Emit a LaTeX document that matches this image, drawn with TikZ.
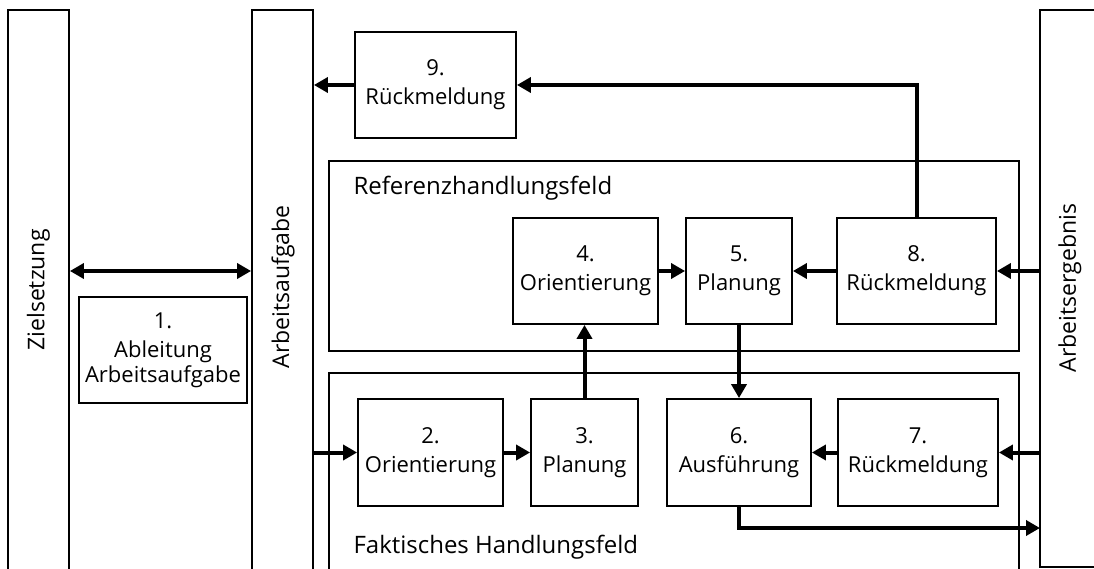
\documentclass[tikz,border=0pt]{standalone}
\usepackage{fontspec}
\setmainfont{Open Sans}
\usetikzlibrary{arrows.meta}
\begin{document}
\begin{tikzpicture}[x=1pt,y=-1pt,
  thinline/.style={line width=1.8pt},
  stepbox/.style={draw,thinline,rectangle,inner sep=0pt,align=center,
    font=\fontsize{22}{29}\selectfont},
  bar/.style={draw,thinline,rectangle,inner sep=0pt,minimum width=61pt},
  barlabel/.style={rotate=90,font=\fontsize{23}{28}\selectfont},
  fieldlabel/.style={anchor=base west,font=\fontsize{24}{28}\selectfont},
  arr/.style={line width=4pt,-{Triangle[length=14pt,width=15pt]}},
  biarr/.style={line width=4pt,{Triangle[length=14pt,width=15pt]}-{Triangle[length=14pt,width=15pt]}}]
\clip (0,0) rectangle (1094,569);

% vertical bars
\node[bar,minimum height=600pt] (ziel) at (38.5,310) {};
\node[bar,minimum height=600pt] (aa) at (282.5,310) {};
\node[bar,minimum width=80pt,minimum height=557pt] (ae) at (1080,288.5) {};
\node[barlabel] (zielt) at (38.5,290) {Zielsetzung};
\node[barlabel] (aat) at (283,287) {Arbeitsaufgabe};
\node[barlabel] (aet) at (1070,288) {Arbeitsergebnis};

% fields
\node[draw,thinline,rectangle,minimum width=690pt,minimum height=190pt] (ref) at (674,256) {};
\node[draw,thinline,rectangle,minimum width=690pt,minimum height=240pt] (fak) at (674,493) {};
\node[fieldlabel] (reft) at (350,195) {Referenzhandlungsfeld};
\node[fieldlabel] (fakt) at (350,553) {Faktisches Handlungsfeld};

% steps
\node[stepbox,minimum width=168pt,minimum height=106pt] (b1) at (163,350) {1.\\Ableitung\\[-4pt]Arbeitsaufgabe};
\node[stepbox,minimum width=161pt,minimum height=106pt] (b9) at (435.5,85) {9.\\Rückmeldung};
\node[stepbox,minimum width=145pt,minimum height=106pt] (b4) at (585.5,271) {4.\\Orientierung};
\node[stepbox,minimum width=106pt,minimum height=106pt] (b5) at (739,271) {5.\\Planung};
\node[stepbox,minimum width=159pt,minimum height=106pt] (b8) at (916.5,271) {8.\\Rückmeldung};
\node[stepbox,minimum width=145pt,minimum height=107pt] (b2) at (430.5,452.5) {2.\\Orientierung};
\node[stepbox,minimum width=107pt,minimum height=107pt] (b3) at (584.5,452.5) {3.\\Planung};
\node[stepbox,minimum width=144pt,minimum height=107pt] (b6) at (739,452.5) {6.\\Ausführung};
\node[stepbox,minimum width=160pt,minimum height=107pt] (b7) at (918,452.5) {7.\\Rückmeldung};
\coordinate (res) at (1040,528);

% connectors
\draw[biarr] (ziel.east |- b4.west) -- (aa.west |- b4.west);
\draw[arr] (b9.west) -- (aa.east |- b9.west);
\draw[arr] (b8.north) |- (b9.east);
\draw[arr] (b4.east) -- (b5.west);
\draw[arr] (b8.west) -- (b5.east);
\draw[arr] (ae.west |- b8.east) -- (b8.east);
\draw[arr] (aa.east |- b2.west) -- (b2.west);
\draw[arr] (b2.east) -- (b3.west);
\draw[arr] (b3.north) -- (b3.north |- b4.south);
\draw[arr] (b5.south) -- (b6.north);
\draw[arr] (b7.west) -- (b6.east);
\draw[arr] (ae.west |- b7.east) -- (b7.east);
\draw[arr] (b6.south) |- (res);
\end{tikzpicture}
\end{document}
